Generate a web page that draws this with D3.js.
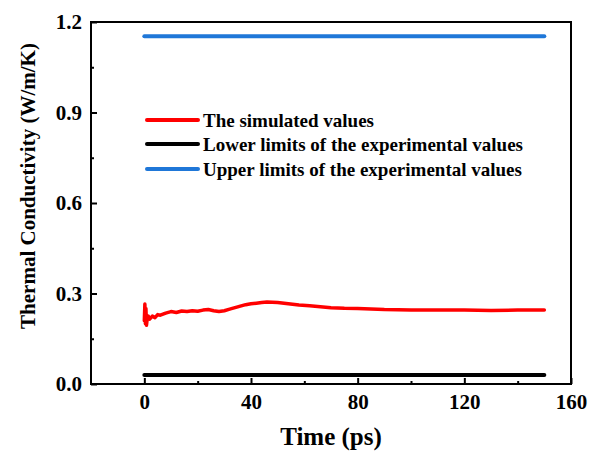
<!DOCTYPE html>
<html>
<head>
<meta charset="utf-8">
<script src="https://cdn.jsdelivr.net/npm/d3@7"></script>
<style>
  body { margin: 0; background: #fff; }
  text { font-family: "Liberation Serif", "Times New Roman", serif; font-weight: bold; }
</style>
</head>
<body>
<div id="chart"></div>
<script>
// data
var simTime = [0, 0.2, 0.4, 0.6, 0.8, 1, 1.5, 2, 3, 4, 5, 6, 8, 10, 12, 14, 16, 18, 20, 22, 24, 26, 28, 30, 32, 34, 36, 38, 40, 42, 44, 46, 48, 50, 54, 58, 62, 66, 70, 75, 80, 85, 90, 95, 100, 110, 120, 130, 140, 150];
var simValues = [0.21, 0.265, 0.2, 0.25, 0.195, 0.21, 0.225, 0.215, 0.225, 0.22, 0.23, 0.228, 0.235, 0.24, 0.237, 0.242, 0.24, 0.243, 0.241, 0.245, 0.247, 0.243, 0.24, 0.243, 0.248, 0.253, 0.258, 0.263, 0.266, 0.268, 0.27, 0.272, 0.271, 0.27, 0.266, 0.262, 0.259, 0.256, 0.253, 0.251, 0.25, 0.249, 0.247, 0.246, 0.245, 0.245, 0.245, 0.244, 0.245, 0.245];
var limitTime = [0, 150];
var lowerValues = [0.03, 0.03];
var upperValues = [1.153, 1.153];
var xTicks = [0, 40, 80, 120, 160];
var yTicks = [0.0, 0.3, 0.6, 0.9, 1.2];
var seriesNames = ["The simulated values", "Lower limits of the experimental values", "Upper limits of the experimental values"];
var seriesColors = ["#ff0000", "#000000", "#1f77d8"];

var width = 591, height = 452;
var plotLeft = 91, plotRight = 571, plotTop = 22, plotBottom = 384;

var svg = d3.select("#chart").append("svg")
    .attr("width", width)
    .attr("height", height);

var x = d3.scaleLinear().domain([-20, 160]).range([plotLeft, plotRight]);
var y = d3.scaleLinear().domain([0, 1.2]).range([plotBottom, plotTop]);

// lines
var line = d3.line()
    .x(function(d) { return x(d[0]); })
    .y(function(d) { return y(d[1]); });

var series = [
    d3.zip(simTime, simValues),
    d3.zip(limitTime, lowerValues),
    d3.zip(limitTime, upperValues)
];
var widths = [3.5, 4, 4];

series.forEach(function(s, i) {
    svg.append("path")
        .datum(s)
        .attr("d", line)
        .attr("fill", "none")
        .attr("stroke", seriesColors[i])
        .attr("stroke-width", widths[i])
        .attr("stroke-linejoin", "round")
        .attr("stroke-linecap", "round");
});

// frame
svg.append("rect")
    .attr("x", plotLeft).attr("y", plotTop)
    .attr("width", plotRight - plotLeft).attr("height", plotBottom - plotTop)
    .attr("fill", "none")
    .attr("stroke", "#000")
    .attr("stroke-width", 2);

// axes with inward ticks
var xAxis = d3.axisBottom(x).tickValues(xTicks).tickSize(-6).tickPadding(10).tickFormat(d3.format("d"));
var xMinor = d3.axisBottom(x).tickValues([20, 60, 100, 140]).tickSize(-3).tickFormat("");
var yAxis = d3.axisLeft(y).tickValues(yTicks).tickSize(-6).tickPadding(9).tickFormat(d3.format(".1f"));
var yMinor = d3.axisLeft(y).tickValues([0.15, 0.45, 0.75, 1.05]).tickSize(-3).tickFormat("");

[xAxis, xMinor].forEach(function(a) {
    svg.append("g").attr("transform", "translate(0," + plotBottom + ")").call(a);
});
[yAxis, yMinor].forEach(function(a) {
    svg.append("g").attr("transform", "translate(" + plotLeft + ",0)").call(a);
});

svg.selectAll(".domain").remove();
svg.selectAll(".tick line").attr("stroke", "#000").attr("stroke-width", 2);
svg.selectAll(".tick text")
    .attr("fill", "#000")
    .style("font-size", "21px")
    .style("font-family", "'Liberation Serif', serif")
    .style("font-weight", "bold");

// axis titles
svg.append("text")
    .attr("x", 331)
    .attr("y", 445)
    .attr("text-anchor", "middle")
    .style("font-size", "25px")
    .text("Time (ps)");

svg.append("text")
    .attr("transform", "translate(35,186) rotate(-90)")
    .attr("text-anchor", "middle")
    .style("font-size", "21px")
    .text("Thermal Conductivity (W/m/K)");

// legend
var legendY = [120, 144, 169];
seriesNames.forEach(function(name, i) {
    svg.append("line")
        .attr("x1", 147).attr("x2", 198)
        .attr("y1", legendY[i]).attr("y2", legendY[i])
        .attr("stroke", seriesColors[i])
        .attr("stroke-width", 4)
        .attr("stroke-linecap", "round");
    svg.append("text")
        .attr("x", 203)
        .attr("y", legendY[i])
        .attr("dy", "0.35em")
        .style("font-size", "19px")
        .text(name);
});
</script>
</body>
</html>
